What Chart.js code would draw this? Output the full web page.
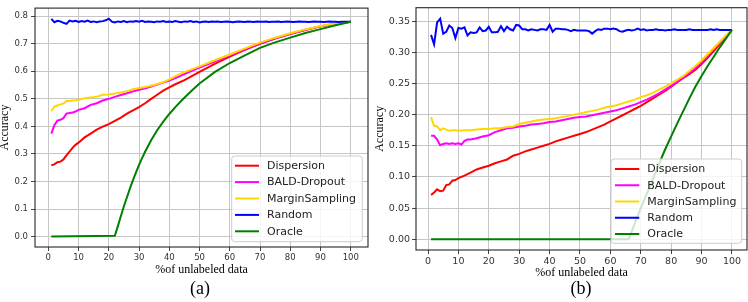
<!DOCTYPE html>
<html><head><meta charset="utf-8">
<script src="https://cdn.jsdelivr.net/npm/chart.js@4/dist/chart.umd.min.js"></script>
<style>
html,body{margin:0;padding:0;background:#fff;width:748px;height:302px;overflow:hidden}
#wa{position:absolute;left:0;top:0;width:372px;height:302px}
#wb{position:absolute;left:374px;top:0;width:374px;height:302px}
.cap{position:absolute;font-family:"Liberation Serif","Times New Roman",serif;font-size:18px;color:#000;top:277px;width:60px;text-align:center;line-height:22px}
</style></head><body>
<div id="wa"><canvas id="ca" width="372" height="302"></canvas></div>
<div id="wb"><canvas id="cb" width="374" height="302"></canvas></div>
<div class="cap" style="left:170px">(a)</div>
<div class="cap" style="left:551px">(b)</div>
<script>
// ---------- labels / ticks ----------
const seriesLabels = ['Dispersion','BALD-Dropout','MarginSampling','Random','Oracle'];
const seriesColors = ['#ff0000','#ff00ff','#ffd700','#0000ff','#008000'];
const xTicks = [0,10,20,30,40,50,60,70,80,90,100];
const yTicksA = [0,0.1,0.2,0.3,0.4,0.5,0.6,0.7,0.8];
const yTickLabelsA = ['0.0','0.1','0.2','0.3','0.4','0.5','0.6','0.7','0.8'];
const yTicksB = [0,0.05,0.1,0.15,0.2,0.25,0.3,0.35];
const yTickLabelsB = ['0.00','0.05','0.10','0.15','0.20','0.25','0.30','0.35'];

// ---------- x positions (% of unlabeled data) ----------
const pct = [1,2,3,4,5,6,7,8,9,10,11,12,13,14,15,16,17,18,19,20,21,22,23,24,25,26,27,28,29,30,31,32,33,34,35,36,37,38,39,40,41,42,43,44,45,46,47,48,49,50,51,52,53,54,55,56,57,58,59,60,61,62,63,64,65,66,67,68,69,70,71,72,73,74,75,76,77,78,79,80,81,82,83,84,85,86,87,88,89,90,91,92,93,94,95,96,97,98,99,100];

// ---------- panel (a) ----------
const aDispersionX = [1,2,3,4,5,6,7,8,9,10,12,14,16,18,20,22,24,26,28,30,32,34,36,38,40,42,45,50,55,60,65,70,75,80,85,90,95,100];
const aDispersionY = [0.259,0.262,0.270,0.272,0.280,0.295,0.308,0.322,0.333,0.341,0.360,0.374,0.388,0.399,0.408,0.420,0.432,0.446,0.458,0.470,0.484,0.500,0.515,0.530,0.542,0.553,0.568,0.598,0.627,0.653,0.678,0.700,0.719,0.735,0.750,0.763,0.772,0.780];
const aBaldX = [1,2,3,4,5,6,7,8,9,10,12,14,16,18,20,22,24,26,28,30,33,36,40,43,45,50,55,60,65,70,75,80,85,90,95,100];
const aBaldY = [0.374,0.404,0.421,0.424,0.430,0.446,0.449,0.450,0.454,0.460,0.466,0.478,0.484,0.494,0.500,0.507,0.514,0.520,0.527,0.533,0.541,0.552,0.566,0.580,0.590,0.613,0.635,0.658,0.680,0.702,0.720,0.736,0.751,0.763,0.773,0.780];
const aMarginX = [1,2,3,4,5,6,7,8,9,10,12,14,16,18,20,22,24,26,28,30,32,35,38,40,43,45,50,55,60,65,70,75,80,85,90,95,100];
const aMarginY = [0.455,0.472,0.476,0.480,0.483,0.492,0.492,0.494,0.495,0.497,0.502,0.505,0.508,0.515,0.516,0.519,0.523,0.528,0.535,0.539,0.543,0.550,0.560,0.571,0.588,0.597,0.618,0.640,0.661,0.683,0.704,0.722,0.738,0.752,0.764,0.773,0.780];
const aRandomY = [0.790,0.778,0.783,0.781,0.776,0.772,0.784,0.781,0.783,0.779,0.782,0.780,0.784,0.779,0.781,0.778,0.781,0.782,0.785,0.791,0.780,0.777,0.781,0.779,0.782,0.778,0.781,0.780,0.782,0.780,0.783,0.779,0.781,0.780,0.778,0.781,0.780,0.782,0.779,0.781,0.779,0.782,0.780,0.778,0.781,0.780,0.782,0.779,0.781,0.777,0.780,0.781,0.779,0.781,0.780,0.781,0.779,0.780,0.781,0.780,0.778,0.780,0.781,0.780,0.779,0.781,0.780,0.779,0.781,0.780,0.780,0.781,0.779,0.780,0.780,0.781,0.779,0.780,0.781,0.780,0.779,0.780,0.781,0.780,0.780,0.779,0.780,0.781,0.780,0.780,0.779,0.780,0.781,0.780,0.780,0.779,0.780,0.780,0.780,0.780];
const aOracleX = [1,22,23,24,25,26,27,28,29,30,31,32,34,36,38,40,42,44,46,48,50,55,60,65,70,75,80,85,90,95,100];
const aOracleY = [0,0.003,0.038,0.075,0.110,0.143,0.175,0.205,0.233,0.260,0.285,0.308,0.350,0.386,0.417,0.445,0.470,0.493,0.515,0.536,0.556,0.597,0.630,0.658,0.685,0.705,0.722,0.739,0.753,0.767,0.780];

// ---------- panel (b) ----------
const bDispersionX = [1,2,3,4,5,6,7,8,9,10,12,14,16,18,20,22,24,26,28,30,32,34,36,38,40,42,44,46,48,50,52,54,56,58,60,62,64,66,68,70,72,74,76,78,80,82,84,86,88,90,92,94,96,98,100];
const bDispersionY = [0.071,0.075,0.080,0.077,0.078,0.087,0.088,0.094,0.095,0.098,0.102,0.107,0.112,0.115,0.118,0.122,0.125,0.128,0.134,0.137,0.141,0.144,0.147,0.150,0.153,0.157,0.160,0.163,0.166,0.169,0.172,0.176,0.180,0.184,0.189,0.194,0.199,0.204,0.209,0.214,0.220,0.226,0.232,0.238,0.245,0.252,0.259,0.265,0.272,0.281,0.291,0.302,0.313,0.324,0.336];
const bBaldX = [1,2,3,4,5,6,7,8,9,10,11,12,13,14,16,18,20,22,24,26,28,30,32,34,36,38,40,42,44,46,48,50,52,54,56,58,60,62,64,66,68,70,72,74,76,78,80,82,84,86,88,90,92,94,96,98,100];
const bBaldY = [0.166,0.166,0.160,0.151,0.153,0.154,0.153,0.154,0.153,0.154,0.152,0.158,0.160,0.160,0.162,0.165,0.167,0.172,0.175,0.178,0.179,0.181,0.182,0.184,0.185,0.186,0.188,0.189,0.191,0.193,0.195,0.196,0.197,0.199,0.201,0.203,0.205,0.207,0.210,0.213,0.216,0.220,0.224,0.229,0.234,0.240,0.246,0.253,0.260,0.267,0.275,0.284,0.294,0.305,0.315,0.326,0.336];
const bMarginX = [1,2,3,4,5,6,7,8,9,10,12,14,16,18,20,22,24,26,28,30,32,34,36,38,40,42,44,46,48,50,52,54,56,58,60,62,64,66,68,70,72,74,76,78,80,82,84,86,88,90,92,94,96,98,100];
const bMarginY = [0.196,0.182,0.181,0.175,0.178,0.176,0.174,0.175,0.175,0.174,0.175,0.175,0.176,0.177,0.177,0.178,0.178,0.180,0.181,0.185,0.187,0.189,0.191,0.192,0.193,0.194,0.196,0.198,0.200,0.202,0.204,0.206,0.208,0.211,0.213,0.215,0.218,0.221,0.224,0.228,0.231,0.235,0.240,0.245,0.250,0.256,0.262,0.270,0.278,0.287,0.297,0.307,0.317,0.327,0.336];
const bRandomY = [0.328,0.313,0.348,0.354,0.330,0.333,0.343,0.339,0.323,0.339,0.338,0.340,0.327,0.332,0.331,0.332,0.340,0.334,0.335,0.341,0.332,0.332,0.333,0.342,0.334,0.341,0.337,0.335,0.344,0.343,0.337,0.337,0.335,0.337,0.336,0.335,0.337,0.337,0.336,0.344,0.333,0.338,0.338,0.337,0.337,0.336,0.334,0.336,0.335,0.335,0.335,0.335,0.334,0.330,0.334,0.337,0.336,0.338,0.338,0.337,0.338,0.337,0.334,0.333,0.335,0.336,0.335,0.336,0.338,0.336,0.337,0.335,0.336,0.336,0.337,0.336,0.336,0.335,0.336,0.336,0.337,0.336,0.336,0.336,0.336,0.337,0.336,0.336,0.336,0.336,0.336,0.336,0.337,0.336,0.337,0.336,0.336,0.336,0.336,0.336];
const bOracleX = [1,66,67,68,70,72,74,76,78,80,82,84,86,88,90,92,94,96,98,100];
const bOracleY = [0,0,0.012,0.025,0.050,0.073,0.097,0.121,0.144,0.165,0.186,0.206,0.226,0.245,0.262,0.278,0.293,0.308,0.322,0.336];

// ---------- helpers ----------
const pts = (xs, ys) => xs.map((x, i) => ({x: x, y: ys[i]}));
function makeDatasets(seriesX, seriesY) {
  return seriesLabels.map((lab, i) => ({
    label: lab,
    data: pts(seriesX[i], seriesY[i]),
    borderColor: seriesColors[i],
    backgroundColor: seriesColors[i],
    borderWidth: 2,
    pointRadius: 0,
    tension: 0,
    fill: false,
    order: seriesLabels.length - i
  }));
}

const framePlugin = {
  id: 'frameBox',
  afterDatasetsDraw(chart) {
    const {ctx, chartArea: a} = chart;
    ctx.save();
    ctx.strokeStyle = '#262626';
    ctx.lineWidth = 1.1;
    ctx.strokeRect(a.left, a.top, a.right - a.left, a.bottom - a.top);
    ctx.restore();
  }
};

const legendPlugin = {
  id: 'boxLegend',
  afterDatasetsDraw(chart, args, o) {
    const ctx = chart.ctx;
    ctx.save();
    const r = 3;
    ctx.beginPath();
    ctx.moveTo(o.x + r, o.y);
    ctx.lineTo(o.x + o.w - r, o.y);
    ctx.quadraticCurveTo(o.x + o.w, o.y, o.x + o.w, o.y + r);
    ctx.lineTo(o.x + o.w, o.y + o.h - r);
    ctx.quadraticCurveTo(o.x + o.w, o.y + o.h, o.x + o.w - r, o.y + o.h);
    ctx.lineTo(o.x + r, o.y + o.h);
    ctx.quadraticCurveTo(o.x, o.y + o.h, o.x, o.y + o.h - r);
    ctx.lineTo(o.x, o.y + r);
    ctx.quadraticCurveTo(o.x, o.y, o.x + r, o.y);
    ctx.closePath();
    ctx.fillStyle = 'rgba(255,255,255,0.8)';
    ctx.fill();
    ctx.strokeStyle = '#cccccc';
    ctx.lineWidth = 1;
    ctx.stroke();
    ctx.font = '11px "DejaVu Sans"';
    ctx.textBaseline = 'middle';
    ctx.textAlign = 'left';
    chart.data.datasets.forEach((ds, i) => {
      const cy = o.firstY + i * o.rowH;
      ctx.strokeStyle = ds.borderColor;
      ctx.lineWidth = 2;
      ctx.beginPath();
      ctx.moveTo(o.sx0, cy);
      ctx.lineTo(o.sx1, cy);
      ctx.stroke();
      ctx.fillStyle = '#222';
      ctx.fillText(ds.label, o.tx, cy + 0.5);
    });
    ctx.restore();
  }
};

function makeChart(canvasId, cfg) {
  const tickFont = {family: 'DejaVu Sans', size: cfg.tickSize};
  return new Chart(document.getElementById(canvasId), {
    type: 'line',
    data: {datasets: makeDatasets(cfg.xs, cfg.ys)},
    plugins: [framePlugin, legendPlugin],
    options: {
      responsive: false,
      animation: false,
      devicePixelRatio: 1,
      layout: {padding: cfg.padding},
      plugins: {
        legend: {display: false},
        tooltip: {enabled: false},
        boxLegend: cfg.legend
      },
      scales: {
        x: {
          type: 'linear', min: cfg.xMin, max: cfg.xMax,
          afterBuildTicks: s => { s.ticks = xTicks.map(v => ({value: v})); },
          afterFit: s => { s.height = cfg.xAxisH; },
          ticks: {autoSkip: false, maxRotation: 0, minRotation: 0, font: tickFont, color: '#333', padding: 2,
                  callback: (v, i) => String(xTicks[i])},
          grid: {color: '#c6c6c6', lineWidth: 1, drawTicks: true, tickLength: 4, tickColor: '#444'},
          border: {display: false},
          title: {display: true, text: '%of unlabeled data', color: '#000',
                  font: {family: 'Liberation Serif', size: 12}, padding: 0}
        },
        y: {
          type: 'linear', min: cfg.yMin, max: cfg.yMax,
          afterBuildTicks: s => { s.ticks = cfg.yTicks.map(v => ({value: v})); },
          afterFit: s => { s.width = cfg.yAxisW; },
          ticks: {autoSkip: false, font: tickFont, color: '#333', padding: cfg.yPad,
                  callback: (v, i) => cfg.yLabels[i]},
          grid: {color: '#c6c6c6', lineWidth: 1, drawTicks: true, tickLength: 4, tickColor: '#444'},
          border: {display: false},
          title: {display: true, text: 'Accuracy', color: '#000',
                  font: {family: 'Liberation Serif', size: 12, lineHeight: 1}, padding: {top: cfg.yTitlePad, bottom: 0}}
        }
      }
    }
  });
}

makeChart('ca', {
  xs: [aDispersionX, aBaldX, aMarginX, pct, aOracleX],
  ys: [aDispersionY, aBaldY, aMarginY, aRandomY, aOracleY],
  xMin: -4.4, xMax: 105.7, yMin: -0.0377, yMax: 0.8293,
  yTicks: yTicksA, yLabels: yTickLabelsA, tickSize: 8.5,
  padding: {left: 0, top: 1, right: 4, bottom: 24.8},
  xAxisH: 30.2, yAxisW: 35, yPad: 3, yTitlePad: -1,
  legend: {x: 231.7, y: 156, w: 130.6, h: 85.7, firstY: 165.7, rowH: 16.4, sx0: 235, sx1: 259, tx: 267}
});

makeChart('cb', {
  xs: [bDispersionX, bBaldX, bMarginX, pct, bOracleX],
  ys: [bDispersionY, bBaldY, bMarginY, bRandomY, bOracleY],
  xMin: -3.95, xMax: 104.95, yMin: -0.0173, yMax: 0.3716,
  yTicks: yTicksB, yLabels: yTickLabelsB, tickSize: 9.5,
  padding: {left: 0, top: 3, right: 1, bottom: 21.8},
  xAxisH: 30.2, yAxisW: 42, yPad: 2, yTitlePad: 0,
  legend: {x: 237, y: 159, w: 130.7, h: 84.3, firstY: 169, rowH: 16.25, sx0: 241, sx1: 265.3, tx: 273.3}
});
</script>
</body></html>
